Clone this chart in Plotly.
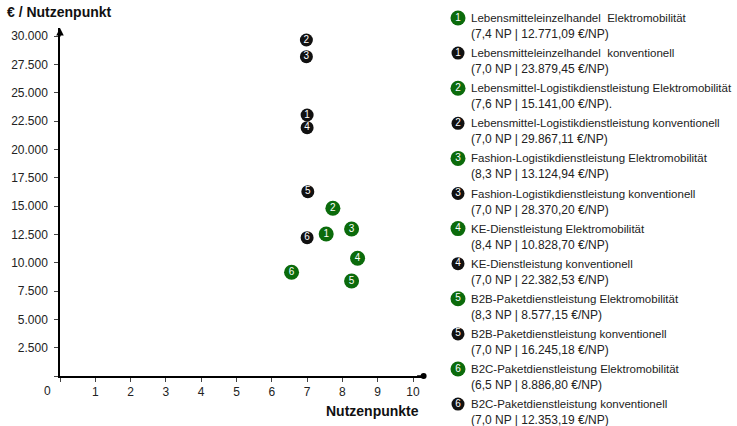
import plotly.graph_objects as go

# ---- data ----
ids = ["1", "1", "2", "2", "3", "3", "4", "4", "5", "5", "6", "6"]
kinds = ["E", "K", "E", "K", "E", "K", "E", "K", "E", "K", "E", "K"]
names = [
    "Lebensmitteleinzelhandel  Elektromobilität",
    "Lebensmitteleinzelhandel  konventionell",
    "Lebensmittel-Logistikdienstleistung Elektromobilität",
    "Lebensmittel-Logistikdienstleistung konventionell",
    "Fashion-Logistikdienstleistung Elektromobilität",
    "Fashion-Logistikdienstleistung konventionell",
    "KE-Dienstleistung Elektromobilität",
    "KE-Dienstleistung konventionell",
    "B2B-Paketdienstleistung Elektromobilität",
    "B2B-Paketdienstleistung konventionell",
    "B2C-Paketdienstleistung Elektromobilität",
    "B2C-Paketdienstleistung konventionell",
]
details = [
    "(7,4 NP | 12.771,09 €/NP)",
    "(7,0 NP | 23.879,45 €/NP)",
    "(7,6 NP | 15.141,00 €/NP).",
    "(7,0 NP | 29.867,11 €/NP)",
    "(8,3 NP | 13.124,94 €/NP)",
    "(7,0 NP | 28.370,20 €/NP)",
    "(8,4 NP | 10.828,70 €/NP)",
    "(7,0 NP | 22.382,53 €/NP)",
    "(8,3 NP | 8.577,15 €/NP)",
    "(7,0 NP | 16.245,18 €/NP)",
    "(6,5 NP | 8.886,80 €/NP)",
    "(7,0 NP | 12.353,19 €/NP)",
]
# positions of the markers as drawn in the chart
nutzenpunkte = [7.54, 7.0, 7.73, 6.98, 8.26, 6.98, 8.43, 7.0, 8.26, 7.02, 6.56, 7.0]
euro_pro_np = [12533, 23036, 14800, 29656, 12974, 28182, 10388, 21915, 8385, 16267, 9153, 12206]

y_ticks = [2500, 5000, 7500, 10000, 12500, 15000, 17500, 20000, 22500, 25000, 27500, 30000]
x_ticks = [1, 2, 3, 4, 5, 6, 7, 8, 9, 10]

GREEN = "#0B6B0B"
BLACK = "#111111"
FONT = "Liberation Sans, Arial, sans-serif"

W, H = 737, 426
fig = go.Figure()

# draw conventional first then e-mobility, keep order so 4 sits over 1
order = [1, 3, 5, 7, 9, 11, 0, 2, 4, 6, 8, 10]
for i in order:
    col = GREEN if kinds[i] == "E" else BLACK
    size = 15 if kinds[i] == "E" else 13
    fig.add_trace(go.Scatter(
        x=[nutzenpunkte[i]], y=[euro_pro_np[i]], mode="markers+text",
        text=[ids[i]], textposition="middle center",
        textfont=dict(color="white", size=10, family=FONT),
        marker=dict(color=col, size=size, line=dict(width=0)),
        showlegend=False, hoverinfo="skip",
    ))

# legend drawn on a hidden second axis (pixel coordinates)
ly0 = 18
step = 35.1
leg_y = [ly0 + k * step for k in range(len(ids))]
for k in range(len(ids)):
    col = GREEN if kinds[k] == "E" else BLACK
    fig.add_trace(go.Scatter(
        x=[458], y=[leg_y[k]], mode="markers+text", xaxis="x2", yaxis="y2",
        text=[ids[k]], textposition="middle center",
        textfont=dict(color="white", size=10, family=FONT),
        marker=dict(color=col, size=15 if kinds[k] == "E" else 13, line=dict(width=0)),
        showlegend=False, hoverinfo="skip",
    ))
    fig.add_annotation(x=469, y=leg_y[k], xref="x2", yref="y2", text=names[k],
                       showarrow=False, xanchor="left", yanchor="middle",
                       font=dict(size=11.5, color="#222222", family=FONT))
    fig.add_annotation(x=469, y=leg_y[k] + 16, xref="x2", yref="y2", text=details[k],
                       showarrow=False, xanchor="left", yanchor="middle",
                       font=dict(size=12, color="#222222", family=FONT))

x0px, x1px = 60, 423.6
ybot, ytop = 376, 28
fig.update_layout(
    width=W, height=H, margin=dict(l=0, r=0, t=0, b=0),
    paper_bgcolor="white", plot_bgcolor="rgba(0,0,0,0)",
    separators=",.",
    font=dict(family=FONT, size=12, color="#222222"),
    xaxis=dict(domain=[x0px / W, x1px / W], range=[0, 10.3], showgrid=False, zeroline=False,
               showline=True, linecolor="black", linewidth=1.5,
               tickmode="array", tickvals=[0] + x_ticks, ticktext=[""] + [str(v) for v in x_ticks],
               ticks="outside", ticklen=4, tickcolor="#444444",
               tickfont=dict(size=12, color="#222222")),
    yaxis=dict(domain=[(H - ybot) / H, (H - ytop) / H], range=[0, 30715], showgrid=False,
               zeroline=False, showline=True, linecolor="black", linewidth=1.5,
               tickmode="array", tickvals=[0] + y_ticks,
               ticktext=[""] + [f"{v:,}".replace(",", ".") for v in y_ticks],
               ticks="outside", ticklen=4, tickcolor="#444444", ticklabelstandoff=4,
               tickfont=dict(size=12, color="#222222")),
    xaxis2=dict(domain=[0, 1], range=[0, W], visible=False, anchor="y2"),
    yaxis2=dict(domain=[0, 1], range=[H, 0], visible=False, anchor="x2"),
)

# axis arrows
fig.add_annotation(x=0, y=30715, xref="x", yref="y", ax=0, ay=10, axref="pixel", ayref="pixel",
                   text="", showarrow=True, arrowhead=2, arrowsize=1, arrowwidth=1.5, arrowcolor="black")
fig.add_annotation(x=10.3, y=0, xref="x", yref="y", ax=-8, ay=0,
                   text="", showarrow=True, arrowhead=6, arrowsize=1, arrowwidth=1.5, arrowcolor="black")

# origin label and axis titles
fig.add_annotation(x=47, y=391, xref="x2", yref="y2", text="0", showarrow=False,
                   xanchor="center", yanchor="middle", font=dict(size=12, color="#222222", family=FONT))
fig.add_annotation(x=5, y=12, xref="x2", yref="y2", text="<b>€ / Nutzenpunkt</b>", showarrow=False,
                   xanchor="left", yanchor="middle", font=dict(size=14, color="#111111", family=FONT))
fig.add_annotation(x=421, y=411, xref="x2", yref="y2", text="<b>Nutzenpunkte</b>", showarrow=False,
                   xanchor="right", yanchor="middle", font=dict(size=14, color="#111111", family=FONT))

fig.write_html("out.html", config={"displayModeBar": False},
               post_script="document.body.style.margin='0';")
